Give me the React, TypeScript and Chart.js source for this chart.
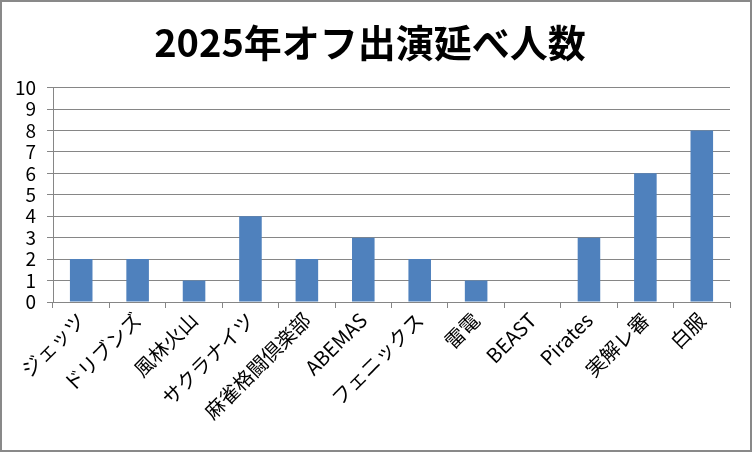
import { useEffect, useRef } from "react"
import { Chart, registerables } from "chart.js"

Chart.register(...registerables)

const categories = [
  "ジェッツ",
  "ドリブンズ",
  "風林火山",
  "サクラナイツ",
  "麻雀格闘倶楽部",
  "ABEMAS",
  "フェニックス",
  "雷電",
  "BEAST",
  "Pirates",
  "実解レ審",
  "白服",
]
const counts = [2, 2, 1, 4, 2, 3, 2, 1, 0, 3, 6, 8]
const yTicks = [0, 1, 2, 3, 4, 5, 6, 7, 8, 9, 10]

const FONT = '"Noto Sans CJK JP", "Noto Sans", sans-serif'
const GRID = "#868686"

export default function App() {
  const chartRef = useRef<HTMLCanvasElement>(null)
  const chartInstance = useRef<Chart | null>(null)

  useEffect(() => {
    document.body.style.margin = "0"
    if (!chartRef.current) return
    const ctx = chartRef.current.getContext("2d")
    if (!ctx) return
    if (chartInstance.current) chartInstance.current.destroy()

    chartInstance.current = new Chart(ctx, {
      type: "bar",
      data: {
        labels: categories,
        datasets: [
          {
            data: counts,
            backgroundColor: "#4F81BD",
            borderWidth: 0,
            barPercentage: 0.4,
            categoryPercentage: 1,
          },
        ],
      },
      options: {
        animation: false,
        responsive: true,
        maintainAspectRatio: false,
        layout: { padding: { left: 8, right: 20, top: 0, bottom: 0 } },
        plugins: {
          legend: { display: false },
          tooltip: { enabled: false },
          title: {
            display: true,
            text: "2025年オフ出演延べ人数",
            color: "#000",
            font: { family: FONT, size: 38, weight: "bold" },
            padding: { top: 18, bottom: 22 },
          },
        },
        scales: {
          x: {
            offset: true,
            grid: {
              offset: true,
              drawOnChartArea: false,
              drawTicks: true,
              tickLength: 6,
              color: GRID,
            },
            border: { display: true, color: GRID },
            ticks: {
              color: "#000",
              font: { family: FONT, size: 20 },
              minRotation: 45,
              maxRotation: 45,
              autoSkip: false,
              padding: 0,
            },
            afterFit: (scale: any) => {
              scale.height = 148
            },
          },
          y: {
            min: 0,
            max: 10,
            afterBuildTicks: (scale: any) => {
              scale.ticks = yTicks.map((v) => ({ value: v }))
            },
            grid: { color: GRID, tickLength: 6 },
            border: { display: true, color: GRID },
            ticks: {
              color: "#000",
              font: { family: FONT, size: 19 },
              padding: 11,
              autoSkip: false,
              stepSize: 1,
            },
            afterFit: (scale: any) => {
              scale.width = 43
            },
          },
        },
      },
    })

    return () => {
      if (chartInstance.current) {
        chartInstance.current.destroy()
        chartInstance.current = null
      }
    }
  }, [])

  return (
    <div
      style={{
        width: 752,
        height: 452,
        border: "2px solid #898989",
        boxSizing: "border-box",
        background: "#fff",
      }}
    >
      <div style={{ position: "relative", width: 748, height: 448 }}>
        <canvas ref={chartRef} />
      </div>
    </div>
  )
}
